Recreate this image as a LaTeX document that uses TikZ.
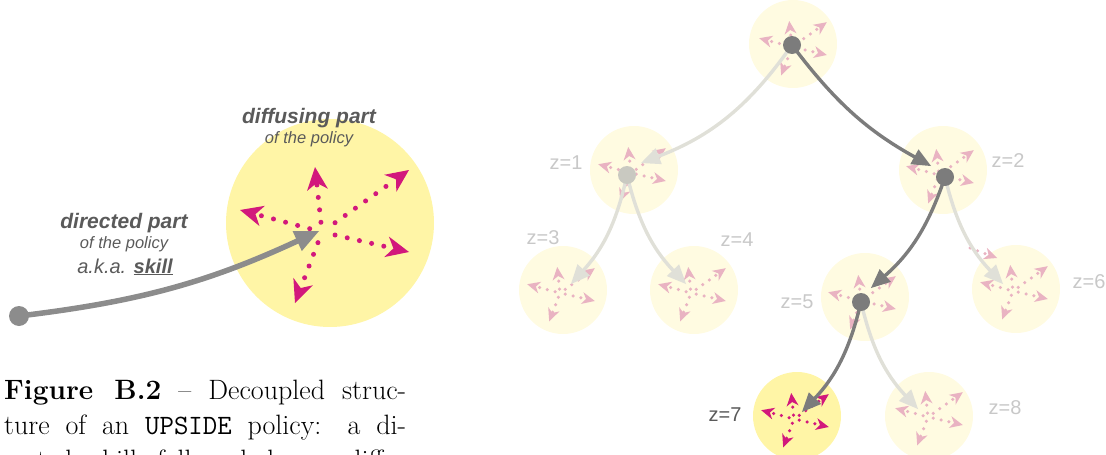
\documentclass[tikz,border=0pt]{standalone}
\usepackage{fontspec}
\newfontfamily\hel{Liberation Sans}
\usetikzlibrary{arrows.meta}
\definecolor{bigyel}{HTML}{FFF5A6}
\definecolor{palyel}{HTML}{FFFBE1}
\definecolor{mag}{HTML}{D2187C}
\definecolor{palemag}{HTML}{E9B3C2}
\definecolor{skillgray}{HTML}{8C8C8C}
\definecolor{edgedark}{HTML}{7C7C7C}
\definecolor{edgepale}{HTML}{E0E0D8}
\definecolor{dotpale}{HTML}{C9C9C1}
\definecolor{txtgray}{HTML}{5A5A5A}
\definecolor{zgray}{HTML}{C8C8C8}
\newcommand\diffstar[4]{%
  \begin{scope}[shift={(#1,#2)},scale=#4]
    \foreach \dx/\dy in {-7/-65,87/-62,-82/-22,87/20,-27/71}
      \draw[#3] ({0.15*\dx},{0.15*\dy}) -- (\dx,\dy);
  \end{scope}}
\begin{document}
\begin{tikzpicture}[x=1pt,y=-1pt,
  bigcirc/.style={circle, fill=bigyel, minimum size=208pt, inner sep=0pt},
  palecirc/.style={circle, fill=palyel, minimum size=88pt, inner sep=0pt},
  brightcirc/.style={circle, fill=bigyel, minimum size=88pt, inner sep=0pt},
  bigdots/.style={mag, line width=5pt, line cap=round, dash pattern=on 0pt off 12.5pt,
    -{Stealth[length=23pt,width=21pt,inset=7pt,line width=0pt]}},
  smalldots/.style={mag, line width=3.5pt, line cap=round, dash pattern=on 0pt off 8pt,
    -{Stealth[length=13pt,width=12pt,inset=4pt,line width=0pt]}},
  paledots/.style={smalldots, palemag},
  skilldot/.style={circle, fill=skillgray, minimum size=20pt, inner sep=0pt},
  skillarrow/.style={skillgray, line width=5.5pt, line cap=round,
    -{Triangle[length=24pt,width=22pt,line width=0pt]}},
  darkedge/.style={edgedark, line width=3.4pt, line cap=round,
    -{Triangle[length=19pt,width=17pt,line width=0pt]}},
  paleedge/.style={darkedge, edgepale},
  darkdot/.style={circle, fill=edgedark, minimum size=18pt, inner sep=0pt},
  paledot/.style={circle, fill=dotpale, minimum size=18pt, inner sep=0pt},
  bigtxt/.style={txtgray, font=\hel\bfseries\itshape\fontsize{21}{24}\selectfont, anchor=base},
  smalltxt/.style={txtgray, font=\hel\itshape\fontsize{16.5}{20}\selectfont, anchor=base},
  zlab/.style={zgray, font=\hel\fontsize{20}{24}\selectfont},
  caption/.style={anchor=base west, inner sep=0pt, font=\fontsize{28}{35}\selectfont}
]
\useasboundingbox (0,0) rectangle (1106,455);
\clip (0,0) rectangle (1106,455);

% ---------- left: decoupled policy ----------
\node[bigcirc] (big) at (330,223) {};
\diffstar{322}{232}{bigdots}{1}
\node[skilldot] (s0) at (19,316) {};
\coordinate (s1) at (319,231);
\draw[skillarrow] (s0.center) to[bend right=9] (s1);

\node[bigtxt] (dif) at (309,123) {diffusing part};
\node[smalltxt] (dif2) at (309,143) {of the policy};
\node[bigtxt] (dir) at (124,228) {directed part};
\node[smalltxt] (dir2) at (124,248) {of the policy};
\node[smalltxt, font=\hel\itshape\fontsize{20}{24}\selectfont] (aka) at (125,273) {a.k.a. \underline{\bfseries skill}};

% ---------- caption (third line is cut by the picture's lower edge, as in the reference) ----------
\node[caption] (cap1) at (4,399) {\makebox[402pt][s]{\bfseries Figure B.2\mdseries{} – Decoupled struc-}};
\node[caption] (cap2) at (4,434) {\makebox[402pt][s]{ture of an \texttt{UPSIDE} policy: a di-}};
\node[caption] (cap3) at (4,469) {\makebox[402pt][s]{rected skill followed by a diffu-}};

% ---------- right: tree ----------
\node[palecirc] (n0) at (793,44) {};
\node[palecirc] (n1) at (634,170) {};
\node[palecirc] (n2) at (943,170) {};
\node[palecirc] (n3) at (563,290) {};
\node[palecirc] (n4) at (694,290) {};
\node[palecirc] (n5) at (865,297) {};
\node[palecirc] (n6) at (1016,289) {};
\node[brightcirc] (n7) at (797,416) {};
\node[palecirc] (n8) at (929,416) {};

\diffstar{792}{47}{paledots}{0.4}
\diffstar{631}{173}{paledots}{0.4}
\diffstar{939}{175}{paledots}{0.4}
\diffstar{560}{293}{paledots}{0.4}
\diffstar{691}{293}{paledots}{0.4}
\diffstar{861}{301}{paledots}{0.4}
\diffstar{1013}{291}{paledots}{0.4}
\diffstar{794}{419}{smalldots}{0.4}
\diffstar{928}{417}{paledots}{0.4}
\coordinate (st0) at (970,248);
\coordinate (st1) at (997,258);
\draw[paledots] (st0) -- (st1);

\node[zlab] (z1) at (566,163) {z=1};
\node[zlab] (z2) at (1008,161) {z=2};
\node[zlab] (z3) at (543,238) {z=3};
\node[zlab] (z4) at (737,240) {z=4};
\node[zlab] (z5) at (797,302) {z=5};
\node[zlab] (z6) at (1089,282) {z=6};
\node[zlab, txtgray] (z7) at (725,415) {z=7};
\node[zlab] (z8) at (1005,408) {z=8};

\coordinate (d0) at (792,45);
\coordinate (d1) at (627,175);
\coordinate (d2) at (945,177);
\coordinate (d5) at (861,302);
\coordinate (t1) at (641,163);
\coordinate (t2) at (931,166);
\coordinate (t3) at (571,284);
\coordinate (t4) at (686,284);
\coordinate (t5) at (871,288);
\coordinate (t6) at (1003,284);
\coordinate (t7) at (802,412);
\coordinate (t8) at (918,409);

\draw[paleedge] (d0) to[bend left=17] (t1);
\draw[paleedge] (d1) to[bend left=15] (t3);
\draw[paleedge] (d1) to[bend right=15] (t4);
\draw[paleedge] (d2) to[bend right=15] (t6);
\draw[paleedge] (d5) to[bend right=15] (t8);
\draw[darkedge] (d0) to[bend right=12] (t2);
\draw[darkedge] (d2) to[bend left=15] (t5);
\draw[darkedge] (d5) to[bend left=15] (t7);

\node[paledot] (p1) at (d1) {};
\node[darkdot] (p0) at (d0) {};
\node[darkdot] (p2) at (d2) {};
\node[darkdot] (p5) at (d5) {};
\end{tikzpicture}
\end{document}
